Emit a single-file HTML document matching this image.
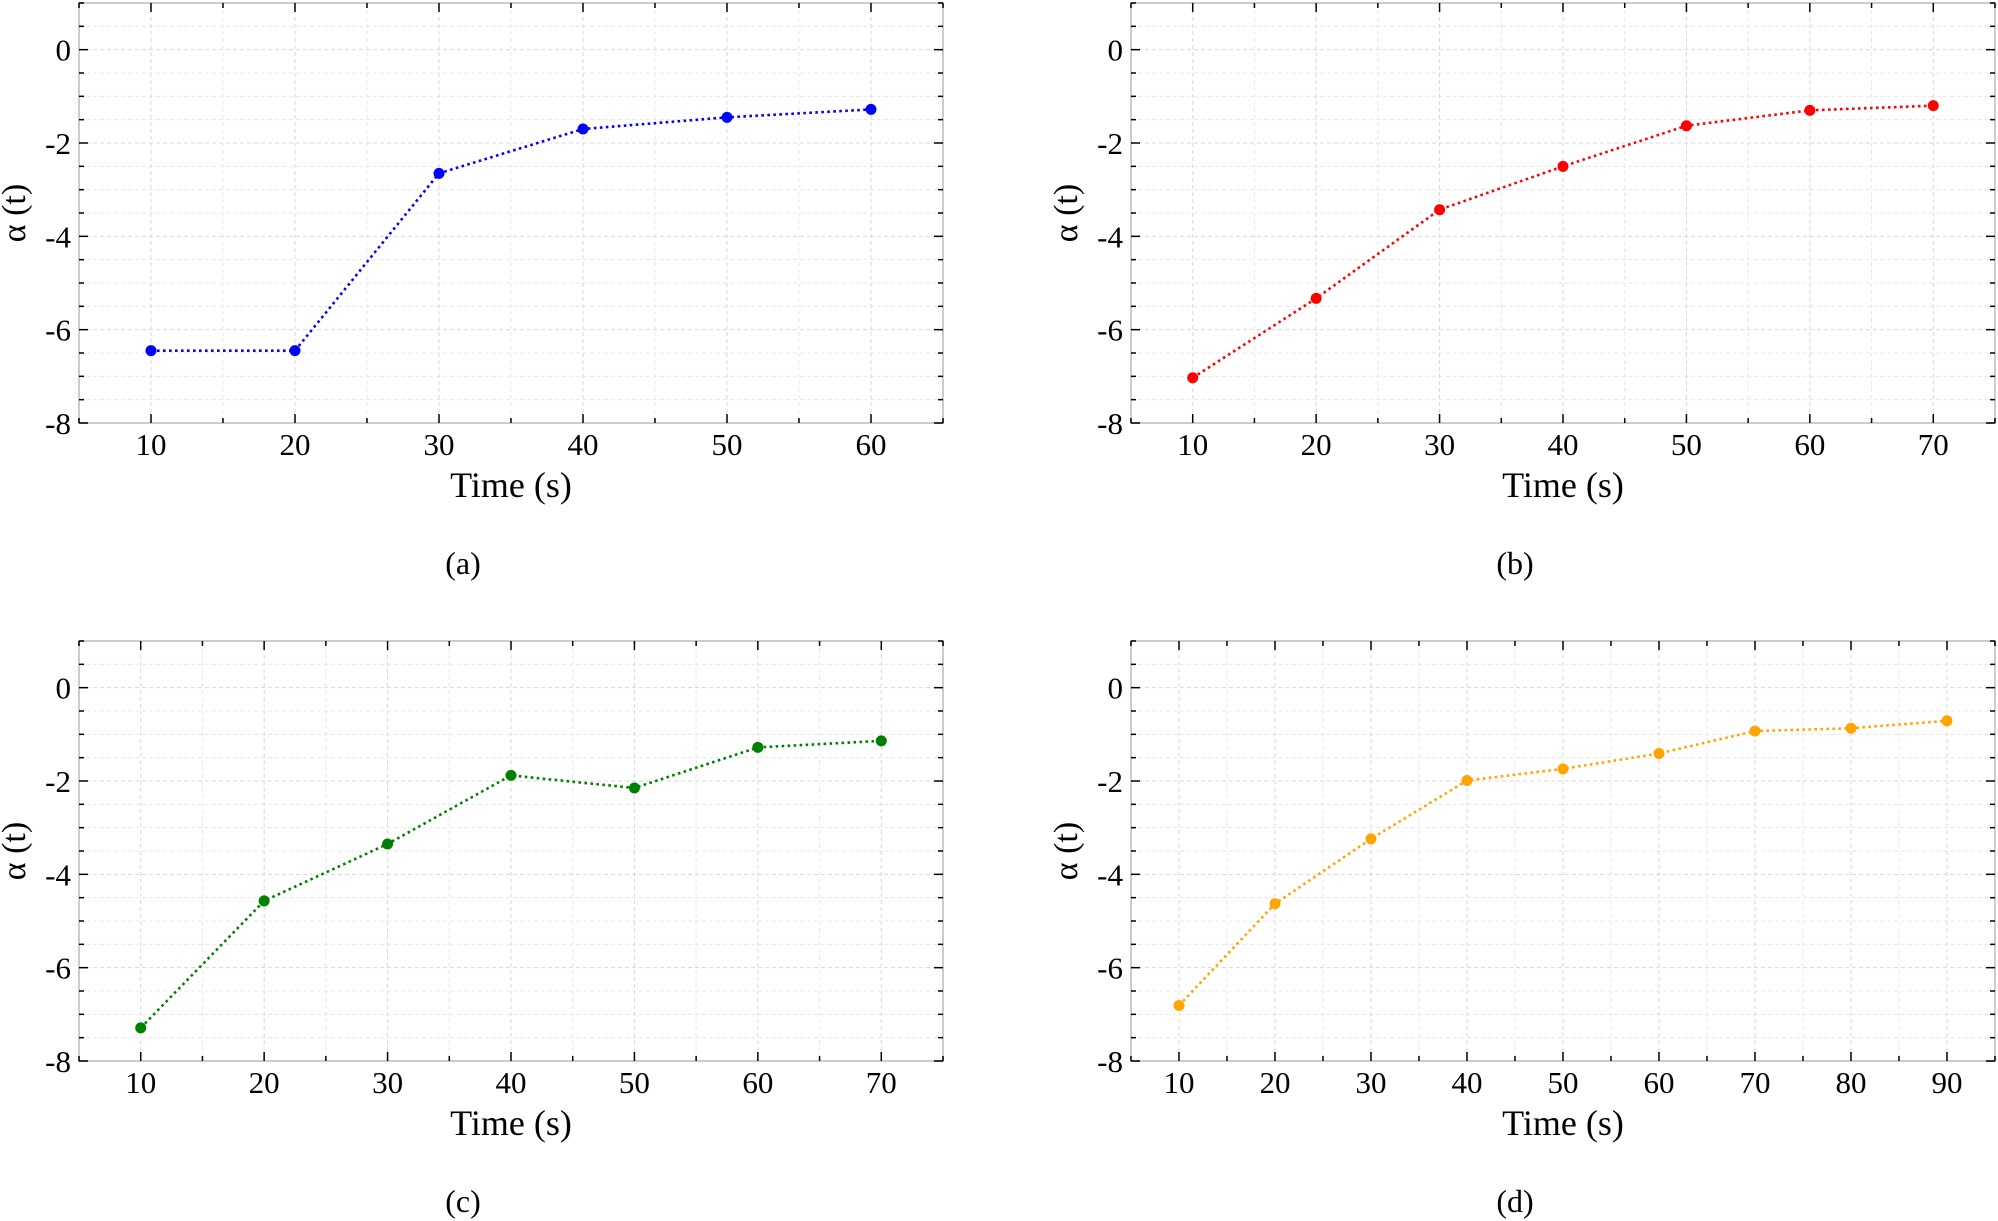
<!DOCTYPE html>
<html><head><meta charset="utf-8"><style>
html,body{margin:0;padding:0;background:#fff;}
svg{display:block;font-family:"Liberation Serif",serif;}
</style></head><body>
<svg id="fig" width="1998" height="1221" viewBox="0 0 1998 1221" xmlns="http://www.w3.org/2000/svg"></svg>
<script>
const timesA = [10,20,30,40,50,60];
const valuesA = [-6.45,-6.45,-2.65,-1.7,-1.45,-1.28];
const timesB = [10,20,30,40,50,60,70];
const valuesB = [-7.03,-5.33,-3.43,-2.5,-1.63,-1.3,-1.2];
const timesC = [10,20,30,40,50,60,70];
const valuesC = [-7.29,-4.57,-3.35,-1.88,-2.15,-1.28,-1.14];
const timesD = [10,20,30,40,50,60,70,80,90];
const valuesD = [-6.81,-4.63,-3.24,-1.99,-1.74,-1.41,-0.93,-0.87,-0.71];
const yTicks = [0,-2,-4,-6,-8];
const xTicksA = [10,20,30,40,50,60];
const xTicksB = [10,20,30,40,50,60,70];
const xTicksD = [10,20,30,40,50,60,70,80,90];

const NS='http://www.w3.org/2000/svg';
const svg=document.getElementById('fig');
function mk(tag,attrs,parent){const e=document.createElementNS(NS,tag);for(const k in attrs)e.setAttribute(k,attrs[k]);(parent||svg).appendChild(e);return e;}

const panels=[
 {id:'a',L:79,R:943,T:3,B:423,xmax:65,t:timesA,v:valuesA,ticks:xTicksA,color:'#0000ff',cap:'(a)'},
 {id:'b',L:1131,R:1995,T:3,B:423,xmax:75,t:timesB,v:valuesB,ticks:xTicksB,color:'#ff0000',cap:'(b)'},
 {id:'c',L:79,R:943,T:641,B:1061,xmax:75,t:timesC,v:valuesC,ticks:xTicksB,color:'#008000',cap:'(c)'},
 {id:'d',L:1131,R:1995,T:641,B:1061,xmax:95,t:timesD,v:valuesD,ticks:xTicksD,color:'#ffa500',cap:'(d)'}
];
panels.forEach(p=>{
 const g=mk('g',{});
 
 
 const xs=x=>p.L+(x-5)/(p.xmax-5)*(p.R-p.L);
 const ys=y=>p.T+(1-y)/9*(p.B-p.T);
 for(let y=1;y>=-8;y-=0.5){mk('line',{x1:p.L,x2:p.R,y1:ys(y),y2:ys(y),stroke:(y%2===0)?'#d8d8d8':'#e8e8e8','stroke-width':1,'stroke-dasharray':'4,3'},g);}
 for(let x=5;x<=p.xmax;x+=5){mk('line',{x1:xs(x),x2:xs(x),y1:p.T,y2:p.B,stroke:(x%10===0)?'#d8d8d8':'#e8e8e8','stroke-width':1,'stroke-dasharray':'4,3'},g);}
 mk('rect',{x:p.L,y:p.T,width:p.R-p.L,height:p.B-p.T,fill:'none',stroke:'#cccccc','stroke-width':2},g);
 for(let x=5;x<=p.xmax;x+=5){const len=(x%10===0)?9:5;
  mk('line',{x1:xs(x),x2:xs(x),y1:p.B,y2:p.B-len,stroke:'#000','stroke-width':1.5},g);
  mk('line',{x1:xs(x),x2:xs(x),y1:p.T,y2:p.T+len,stroke:'#000','stroke-width':1.5},g);}
 for(let y=1;y>=-8;y-=0.5){const len=(y%2===0)?9:5;
  mk('line',{x1:p.L,x2:p.L+len,y1:ys(y),y2:ys(y),stroke:'#000','stroke-width':1.5},g);
  mk('line',{x1:p.R,x2:p.R-len,y1:ys(y),y2:ys(y),stroke:'#000','stroke-width':1.5},g);}
 yTicks.forEach(y=>{const t=mk('text',{x:p.L-8,y:ys(y)+11,'text-anchor':'end','font-size':31},g);t.textContent=y;
  });
 p.ticks.forEach(x=>{const t=mk('text',{x:xs(x),y:p.B+32,'text-anchor':'middle','font-size':31},g);t.textContent=x;
  });
 const xl=mk('text',{x:(p.L+p.R)/2,y:p.B+74,'text-anchor':'middle','font-size':36},g);xl.textContent='Time (s)';
 
 const cy=(p.T+p.B)/2;
 const yl=mk('text',{x:p.L-54,y:cy,'text-anchor':'middle','font-size':34,transform:`rotate(-90 ${p.L-54} ${cy})`},g);yl.textContent='α (t)';
 
 const cap=mk('text',{x:(p.L+p.R)/2-48,y:p.B+151,'text-anchor':'middle','font-size':32},g);cap.textContent=p.cap;
 
 const pts=p.t.map((t,i)=>xs(t)+','+ys(p.v[i])).join(' ');
 const line=mk('polyline',{points:pts,fill:'none',stroke:p.color,'stroke-width':2.6,'stroke-dasharray':'2.6,3.4'},g);
 
 p.t.forEach((t,i)=>{const c=mk('circle',{cx:xs(t),cy:ys(p.v[i]),r:5.5,fill:p.color},g);
  });
});
</script>
</body></html>
